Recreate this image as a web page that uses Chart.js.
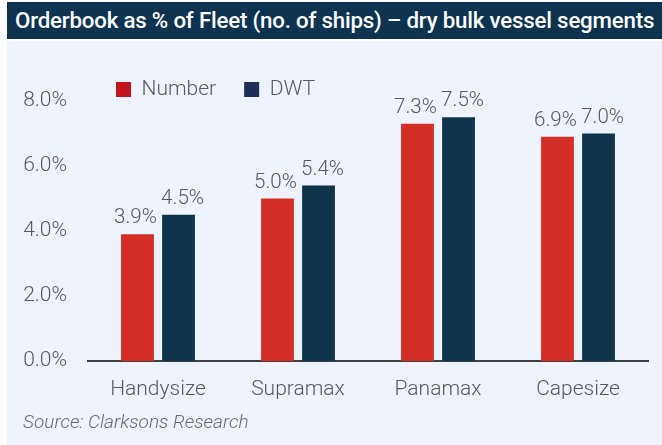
<!DOCTYPE html>
<html lang="en">
<head>
    <meta charset="UTF-8">
    <title>Orderbook as % of Fleet</title>
    <script src="https://cdn.jsdelivr.net/npm/chart.js"></script>
    <style>
        body { margin: 0; width: 662px; height: 445px; background: #fff; overflow: hidden; font-family: Roboto, sans-serif; }
        #title { position: absolute; left: 7px; top: 2px; width: 655px; height: 37px; background: #0d3350;
                 color: #fff; font-size: 22.3px; font-weight: 500; line-height: 37px; padding-left: 8px; box-sizing: border-box; white-space: nowrap; letter-spacing: -0.2px; }
        #panel { position: absolute; left: 7px; top: 41px; width: 655px; height: 404px; background: #eef3fb; }
        #source { position: absolute; left: 16px; top: 369px; font-size: 19px; font-style: italic; font-weight: 300; color: #6b6b6b; }
    </style>
</head>
<body>
    <div id="title">Orderbook as % of Fleet (no. of ships) – dry bulk vessel segments</div>
    <div id="panel">
        <canvas id="chart" width="655" height="404"></canvas>
        <div id="source">Source: Clarksons Research</div>
    </div>

    <script>
        // data
        const segments = ['Handysize', 'Supramax', 'Panamax', 'Capesize'];
        const numberPct = [3.9, 5.0, 7.3, 6.9];
        const dwtPct = [4.5, 5.4, 7.5, 7.0];
        const yTicks = [0, 2, 4, 6, 8];

        const grey = '#595959';
        const legendColors = ['#c0161b', '#1f2d5a'];
        const labelFont = { family: 'Roboto', size: 21, weight: '300' };

        // value labels above each bar, nudged apart a little like the original
        const labelShift = [-2, 4];
        const valueLabels = {
            id: 'valueLabels',
            afterDatasetsDraw(chart) {
                const ctx = chart.ctx;
                ctx.save();
                ctx.font = '300 20.5px Roboto';
                ctx.fillStyle = grey;
                ctx.textAlign = 'center';
                ctx.textBaseline = 'alphabetic';
                chart.data.datasets.forEach((ds, i) => {
                    chart.getDatasetMeta(i).data.forEach((bar, j) => {
                        ctx.fillText(ds.data[j].toFixed(1) + '%', bar.x + labelShift[i], bar.y - 11);
                    });
                });
                ctx.restore();
            }
        };

        new Chart(document.getElementById('chart'), {
            type: 'bar',
            data: {
                labels: segments,
                datasets: [
                    { label: 'Number', data: numberPct, backgroundColor: '#d22e26' },
                    { label: 'DWT', data: dwtPct, backgroundColor: '#0e344c' }
                ]
            },
            options: {
                responsive: false,
                animation: false,
                categoryPercentage: 0.586,
                barPercentage: 0.8,
                layout: { padding: { top: 10, right: 14, left: 0, bottom: 0 } },
                plugins: {
                    tooltip: { enabled: false },
                    legend: {
                        position: 'top',
                        align: 'start',
                        fullSize: false,
                        maxHeight: 50,
                        labels: {
                            boxWidth: 15,
                            boxHeight: 15,
                            padding: 28,
                            color: grey,
                            font: labelFont,
                            generateLabels(chart) {
                                return Chart.defaults.plugins.legend.labels.generateLabels(chart).map((l, i) => {
                                    l.fillStyle = legendColors[i];
                                    l.strokeStyle = legendColors[i];
                                    l.lineWidth = 0;
                                    return l;
                                });
                            }
                        }
                    }
                },
                scales: {
                    x: {
                        grid: { display: false, drawTicks: false },
                        border: { display: true, color: '#3f3f3f', width: 2 },
                        ticks: { color: grey, padding: 16, font: labelFont },
                        afterFit(s) { s.height = 84; }
                    },
                    y: {
                        min: 0,
                        max: 8,
                        grid: { display: false, drawTicks: false },
                        border: { display: false },
                        afterBuildTicks(s) { s.ticks = yTicks.map(v => ({ value: v })); },
                        ticks: {
                            color: grey,
                            padding: 21,
                            font: labelFont,
                            callback: v => v.toFixed(1) + '%'
                        },
                        afterFit(s) { s.width = 81; }
                    }
                }
            },
            plugins: [valueLabels]
        });
    </script>
</body>
</html>
